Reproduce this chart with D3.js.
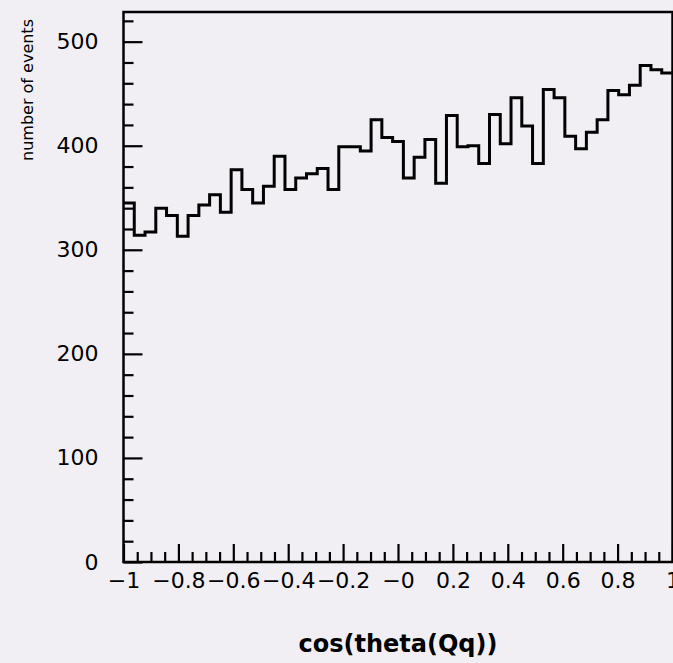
<!DOCTYPE html>
<html>
<head>
<meta charset="utf-8">
<script src="https://cdn.jsdelivr.net/npm/d3@7"></script>
<style>
  html, body { margin: 0; padding: 0; background: #f1eff4; }
  svg { display: block; }
</style>
</head>
<body>
<svg id="chart" width="673" height="663"></svg>
<script>
// ---- data ----
const binLow = -1, binHigh = 1;
const counts = [
  345, 314, 317, 340, 333, 313, 333, 343, 353, 336,
  377, 358, 345, 361, 390, 358, 369, 373, 378, 358,
  399, 399, 395, 425, 408, 404, 369, 389, 406, 364,
  429, 399, 400, 383, 430, 402, 446, 419, 383, 454,
  446, 409, 397, 413, 425, 453, 449, 458, 477, 473, 470
];
const xTicks = [-1, -0.8, -0.6, -0.4, -0.2, 0, 0.2, 0.4, 0.6, 0.8, 1];
const xTickLabels = ["\u22121", "\u22120.8", "\u22120.6", "\u22120.4", "\u22120.2", "\u22120", "0.2", "0.4", "0.6", "0.8", "1"];
const yTicks = [0, 100, 200, 300, 400, 500];
const yTickLabels = ["0", "100", "200", "300", "400", "500"];
const xTitle = "cos(theta(Qq))";
const yTitle = "number of events";
const yMax = 528.5;

// ---- layout ----
const padL = 123.5, padR = 672.5, padT = 12, padB = 562;
const svg = d3.select("#chart");
const font = "'DejaVu Sans', sans-serif";

svg.append("rect").attr("width", 673).attr("height", 663).attr("fill", "#f1eff4");

const x = d3.scaleLinear().domain([binLow, binHigh]).range([padL, padR]);
const y = d3.scaleLinear().domain([0, yMax]).range([padB, padT]);

// histogram step line
const nb = counts.length;
const bw = (binHigh - binLow) / nb;
const pts = counts.map((c, i) => [binLow + i * bw, c]);
pts.push([binHigh, counts[nb - 1]]);
const line = d3.line().x(d => x(d[0])).y(d => y(d[1])).curve(d3.curveStepAfter);
svg.append("path")
  .attr("d", line(pts))
  .attr("fill", "none")
  .attr("stroke", "#000")
  .attr("stroke-width", 3)
  .attr("stroke-linejoin", "miter");

// minor ticks
const xMinor = d3.range(-1, 1.0001, 0.05).filter(v => Math.abs(Math.round(v * 5) - v * 5) > 1e-6);
const yMinor = d3.range(0, yMax, 20).filter(v => v % 100 !== 0);

const gxMinor = svg.append("g").attr("transform", `translate(0,${padB})`)
  .call(d3.axisBottom(x).tickValues(xMinor).tickSize(-10).tickFormat(""));
const gyMinor = svg.append("g").attr("transform", `translate(${padL},0)`)
  .call(d3.axisLeft(y).tickValues(yMinor).tickSize(-10).tickFormat(""));

// major axes
const gx = svg.append("g").attr("transform", `translate(0,${padB})`)
  .call(d3.axisBottom(x).tickValues(xTicks).tickSize(-18).tickPadding(10)
    .tickFormat((d, i) => xTickLabels[i]));
const gy = svg.append("g").attr("transform", `translate(${padL},0)`)
  .call(d3.axisLeft(y).tickValues(yTicks).tickSize(-19).tickPadding(25)
    .tickFormat((d, i) => yTickLabels[i]));

[gxMinor, gyMinor, gx, gy].forEach(g => {
  g.select(".domain").remove();
  g.selectAll(".tick line").attr("stroke", "#000").attr("stroke-width", 2.2);
});
[gx, gy].forEach(g => {
  g.selectAll(".tick text")
    .attr("fill", "#000")
    .style("font-family", font)
    .style("font-size", "22px");
});

// frame
svg.append("rect")
  .attr("x", padL).attr("y", padT)
  .attr("width", padR - padL).attr("height", padB - padT)
  .attr("fill", "none").attr("stroke", "#000").attr("stroke-width", 2.5);

// titles
svg.append("text")
  .attr("x", x(0)).attr("y", 652)
  .attr("text-anchor", "middle")
  .style("font-family", font).style("font-size", "24px").style("font-weight", "bold")
  .text(xTitle);

svg.append("text")
  .attr("transform", "translate(33,90) rotate(-90)")
  .attr("text-anchor", "middle")
  .style("font-family", font).style("font-size", "16px")
  .text(yTitle);
</script>
</body>
</html>
